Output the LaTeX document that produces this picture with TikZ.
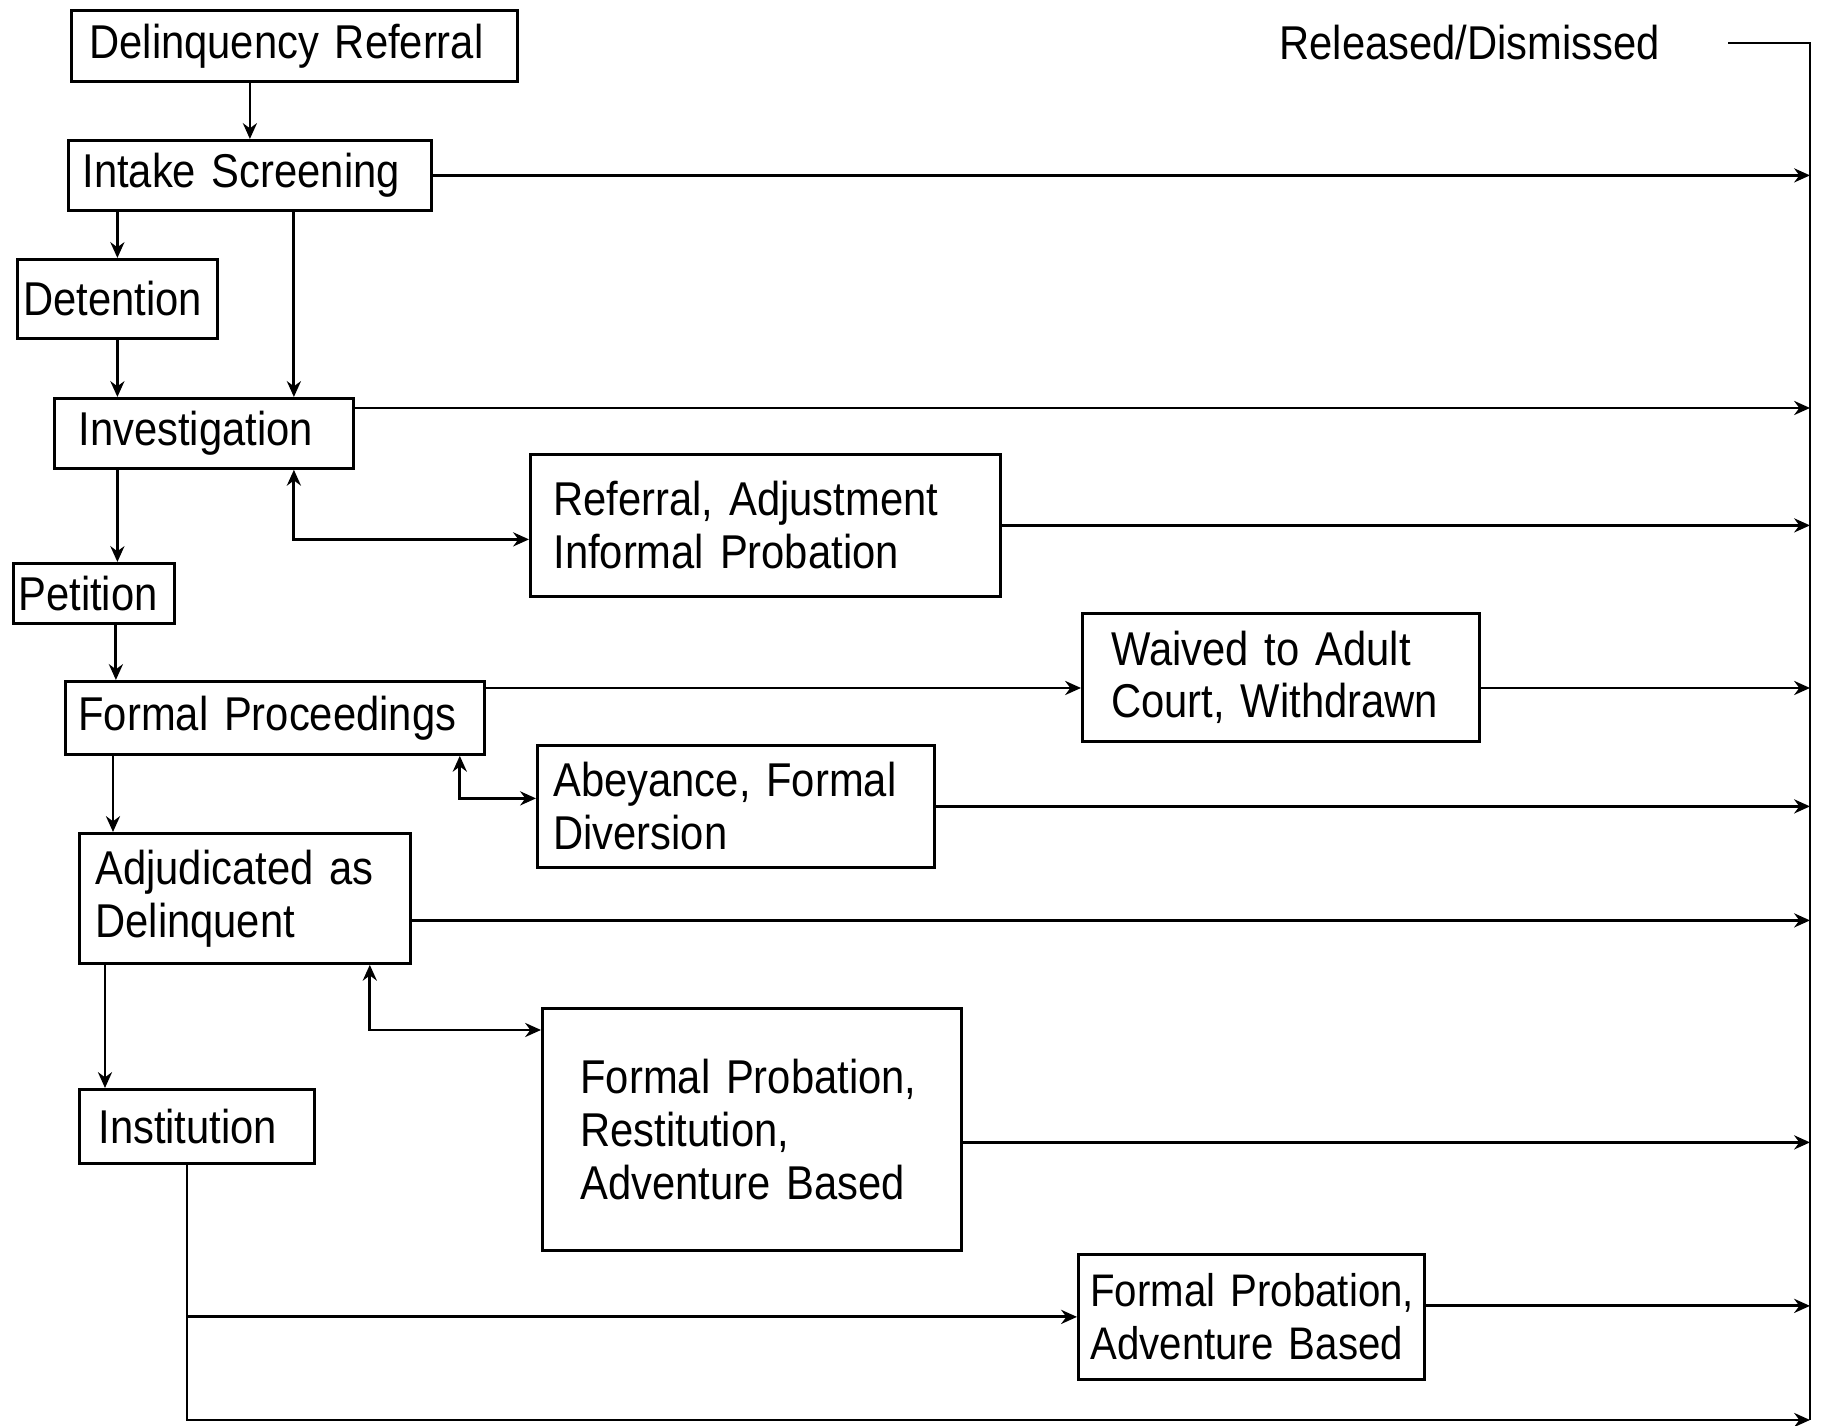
\documentclass[tikz,border=0pt]{standalone}
\usepackage{fontspec}
\setmainfont{Liberation Sans}[FakeStretch=0.88]
\usetikzlibrary{arrows.meta}
\hyphenpenalty=10000

\begin{document}
\begin{tikzpicture}[x=0.1mm, y=-0.1mm, line width=0.8pt, >={Stealth[length=4.5pt,width=4pt]},
  box/.style={draw, anchor=north west, align=left, inner ysep=0pt, font=\fontsize{13.5pt}{15pt}\selectfont}]
\useasboundingbox (0,0) rectangle (1822,1426);

% left column
\node[box, text width=41mm, inner xsep=1.8mm, minimum height=7.1mm] (dr) at (70,9) {Delinquency Referral};
\node[box, text width=33.5mm, inner xsep=1.4mm, minimum height=7mm] (intake) at (67,139) {Intake Screening};
\node[box, text width=18.8mm, inner xsep=0.6mm, minimum height=7.9mm] (det) at (16,258) {Detention};
\node[box, text width=25.1mm, inner xsep=2.4mm, minimum height=7mm] (inv) at (53,397) {Investigation};
\node[box, text width=15.1mm, inner xsep=0.5mm, minimum height=6mm] (pet) at (12,562) {Petition};
\node[box, text width=39.3mm, inner xsep=1.3mm, minimum height=7.3mm] (fp) at (64,680) {Formal Proceedings};
\node[box, text width=29.9mm, inner xsep=1.6mm, minimum height=13mm] (adj) at (78,832) {Adjudicated as\\Delinquent};
\node[box, text width=19.7mm, inner xsep=1.9mm, minimum height=7.4mm] (inst) at (78,1088) {Institution};

% outcomes
\node[box, text width=42.4mm, inner xsep=2.3mm, minimum height=14.2mm] (ref) at (529,453) {Referral, Adjustment\\Informal Probation};
\node[box, text width=33.9mm, inner xsep=2.9mm, minimum height=12.8mm] (wv) at (1081,612) {Waived to Adult\\Court, Withdrawn};
\node[box, text width=36.5mm, inner xsep=1.6mm, minimum height=12.2mm] (ab) at (536,744) {Abeyance, Formal\\Diversion};
\node[box, text width=34.3mm, inner xsep=3.8mm, minimum height=24.2mm] (fpr) at (541,1007) {Formal Probation,\\Restitution,\\Adventure Based};
\node[box, font=\fontsize{13pt}{15pt}\selectfont, text width=32.2mm, inner xsep=1.2mm, minimum height=12.5mm] (fpa) at (1077,1253) {\mbox{Formal Probation,}\\\mbox{Adventure Based}};
\node[box, draw=none, inner sep=0pt, anchor=west] (rel) at (1278,43) {Released/Dismissed};

% bus on the right
\coordinate (rl) at (1728,43);
\coordinate (bt) at (1810,43);
\coordinate (bb) at (1810,1420);
\draw (rl) -- (bt) -- (bb);

% down the left side
\draw[->] (intake.north |- dr.south) -- (intake.north);
\draw[->] (det.north |- intake.south) -- (det.north);
\coordinate (skip) at ([xshift=9mm]inv.north);
\draw[->] (skip |- intake.south) -- (skip);
\draw[->] (det.south) -- (det.south |- inv.north);
\draw[->] (det.south |- inv.south) -- (det.south |- pet.north);
\coordinate (pf) at ([xshift=2.2mm]pet.south);
\draw[->] (pf) -- (pf |- fp.north);
\coordinate (fa) at ([xshift=3.5mm]adj.north west);
\draw[->] (fa |- fp.south) -- (fa);
\coordinate (ai) at ([xshift=2.7mm]inst.north west);
\draw[->] (ai |- adj.south) -- (ai);

% side branches
\draw[<->] ([xshift=9mm]inv.south) |- ([yshift=-1.4mm]ref.west);
\draw[<->] ([xshift=-2.6mm]fp.south east) |- ([yshift=0.8mm]ab.west);
\draw[<->] ([xshift=-4.2mm]adj.south east) |- ([yshift=-2.3mm]fpr.north west);
\coordinate (io) at ([xshift=-1mm]inst.south);
\draw[->] (io) |- (fpa.west);
\draw[->] (io) |- (bb);

% to released/dismissed
\coordinate (invR) at ([yshift=-1.1mm]inv.north east);
\coordinate (fpR) at ([yshift=-0.8mm]fp.north east);
\coordinate (adjR) at ([yshift=-2.2mm]adj.east);
\coordinate (fprR) at ([yshift=-1.3mm]fpr.east);
\coordinate (fpaR) at ([yshift=1.1mm]fpa.east);
\draw[->] (intake.east) -- (intake.east -| bt);
\draw[->] (invR) -- (invR -| bt);
\draw[->] (ref.east) -- (ref.east -| bt);
\draw[->] (fpR) -- (fpR -| wv.west);
\draw[->] (fpR -| wv.east) -- (fpR -| bt);
\draw[->] (ab.east) -- (ab.east -| bt);
\draw[->] (adjR) -- (adjR -| bt);
\draw[->] (fprR) -- (fprR -| bt);
\draw[->] (fpaR) -- (fpaR -| bt);
\end{tikzpicture}
\end{document}
